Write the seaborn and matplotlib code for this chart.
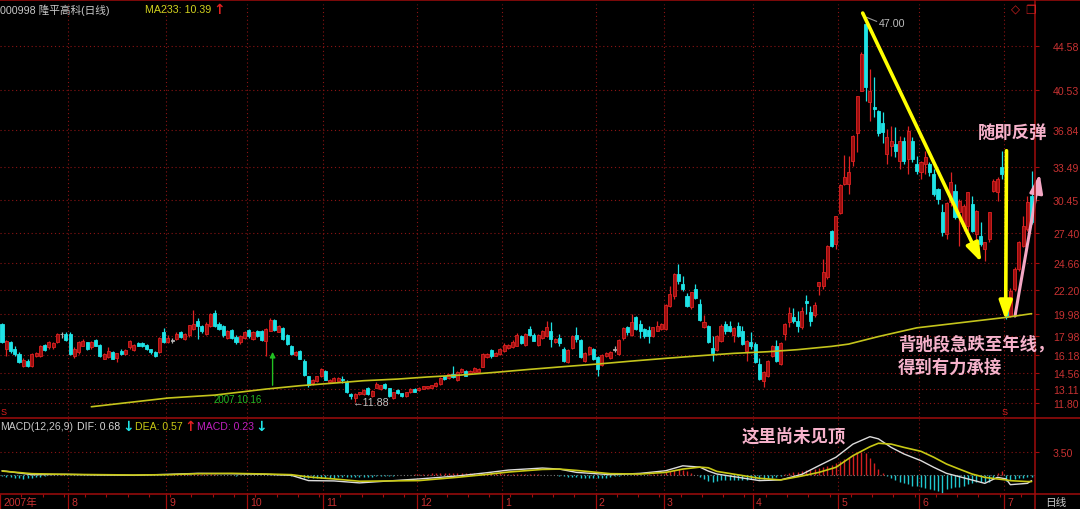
# -*- coding: utf-8 -*-
"""
000998 daily candles with MA233 + MACD, dark terminal look
"""

import numpy as np
import matplotlib.pyplot as plt
import matplotlib.transforms as mtrans
from matplotlib.lines import Line2D
import seaborn as sns
import pandas as pd

sns.set_theme(style="dark", rc={"axes.facecolor": "black", "figure.facecolor": "black",
                                "axes.grid": False})
plt.rcParams["font.family"] = ["Liberation Sans", "Noto Sans CJK SC", "DejaVu Sans"]

#%% Data
opens = [19.05, 16.80, 17.36, 16.75, 16.30, 15.20, 15.70, 15.20, 16.10, 16.10,
         17.10, 16.90, 16.90, 17.36, 18.10, 18.10, 18.10, 16.10, 16.45, 17.05,
         17.36, 16.90, 17.60, 17.10, 15.85, 16.00, 16.45, 15.90, 16.60, 16.30,
         16.90, 16.70, 17.35, 17.30, 17.10, 16.75, 16.50, 16.50, 18.30, 17.36,
         17.50, 17.70, 18.30, 17.70, 18.00, 18.60, 19.35, 18.90, 18.10, 18.90,
         20.10, 19.05, 18.90, 17.80, 18.50, 17.90, 17.36, 17.75, 18.50, 17.67,
         18.45, 18.40, 17.50, 18.45, 19.45, 18.35, 18.65, 18.00, 17.05, 16.20,
         16.60, 15.70, 14.25, 13.60, 13.80, 14.25, 14.75, 13.70, 13.76, 13.85,
         14.00, 13.76, 12.63, 12.23, 12.63, 12.63, 13.15, 12.42, 13.21, 13.09,
         13.52, 13.15, 12.26, 12.97, 12.69, 12.48, 12.78, 13.09, 13.00, 13.09,
         13.15, 13.21, 13.33, 13.52, 14.25, 14.07, 14.46, 13.91, 14.62, 14.71,
         14.56, 14.62, 14.68, 15.14, 16.03, 16.70, 16.15, 16.30, 16.57, 16.82,
         16.91, 17.06, 17.92, 17.12, 18.59, 18.04, 17.12, 17.74, 17.98, 18.44,
         17.37, 17.80, 16.76, 15.60, 16.82, 18.04, 17.62, 15.69, 16.30, 16.76,
         15.99, 15.29, 16.09, 15.90, 16.70, 16.30, 17.73, 18.74, 18.04, 19.66,
         19.05, 18.59, 18.50, 17.92, 18.44, 18.59, 18.59, 20.73, 21.65, 23.64,
         22.72, 21.65, 20.58, 22.26, 20.88, 18.80, 18.90, 16.82, 16.70, 17.52,
         19.05, 18.90, 18.04, 18.84, 18.44, 16.60, 17.43, 17.21, 15.38, 13.85,
         14.31, 16.14, 17.06, 15.38, 18.13, 19.20, 19.66, 19.36, 18.74, 21.19,
         20.12, 19.87, 22.50, 22.57, 23.40, 27.60, 26.40, 29.24, 31.90, 31.90,
         34.04, 36.57, 40.46, 46.57, 39.39, 38.93, 38.60, 37.50, 34.64, 35.40,
         35.56, 34.03, 35.86, 34.18, 35.86, 33.72, 32.96, 33.72, 33.72, 32.80,
         31.43, 29.29, 27.30, 30.20, 31.28, 29.29, 28.07, 28.07, 30.05, 27.30,
         27.15, 25.93, 26.84, 31.28, 31.12, 33.42, 20.58, 19.81, 22.26, 24.10,
         26.23, 27.76, 30.82]
highs = [19.10, 17.60, 17.50, 17.00, 16.50, 15.90, 15.80, 16.40, 16.50, 17.10,
         17.20, 17.50, 17.40, 18.20, 18.30, 18.30, 18.30, 16.90, 17.50, 17.70,
         17.40, 17.50, 17.70, 17.20, 16.40, 16.90, 16.60, 16.40, 16.80, 16.80,
         17.60, 17.20, 17.40, 17.40, 17.20, 16.80, 16.60, 17.90, 18.70, 18.00,
         17.80, 18.30, 18.40, 18.20, 19.00, 20.30, 19.60, 19.00, 19.20, 20.10,
         20.30, 19.20, 19.00, 18.50, 18.60, 18.00, 18.00, 18.40, 18.60, 18.40,
         18.50, 18.50, 18.70, 19.60, 19.50, 19.00, 18.80, 18.10, 17.10, 16.60,
         16.70, 15.80, 14.30, 14.00, 14.30, 15.00, 14.80, 14.00, 14.20, 14.20,
         14.30, 13.90, 12.70, 12.70, 12.85, 13.05, 13.25, 13.00, 13.70, 13.50,
         13.60, 13.20, 12.85, 13.05, 12.75, 12.85, 13.15, 13.20, 13.30, 13.40,
         13.40, 13.50, 13.75, 14.20, 14.30, 14.50, 15.17, 14.70, 15.00, 14.80,
         14.85, 15.10, 15.00, 16.35, 16.35, 16.80, 16.45, 16.85, 17.30, 17.20,
         17.55, 18.20, 18.00, 18.25, 18.90, 18.20, 18.15, 18.50, 19.36, 19.20,
         17.80, 18.13, 16.90, 16.80, 18.00, 18.75, 17.70, 16.50, 17.00, 16.85,
         16.10, 16.30, 16.45, 16.60, 17.00, 17.70, 18.80, 18.90, 19.97, 19.80,
         19.45, 18.70, 18.90, 18.80, 19.30, 19.10, 20.90, 22.57, 23.70, 24.55,
         23.50, 21.90, 22.00, 22.70, 21.34, 19.87, 19.00, 17.92, 18.00, 19.05,
         19.36, 19.36, 18.74, 19.20, 18.90, 17.60, 18.28, 17.40, 15.90, 14.70,
         15.75, 17.10, 17.60, 17.40, 19.10, 20.58, 20.49, 20.27, 20.60, 21.70,
         20.73, 21.04, 22.95, 25.00, 26.30, 27.70, 29.00, 31.90, 34.56, 34.50,
         36.40, 40.00, 43.97, 47.00, 42.45, 41.68, 38.70, 38.46, 36.93, 37.24,
         37.08, 36.32, 36.17, 37.24, 36.17, 34.49, 34.00, 34.95, 33.87, 33.26,
         31.50, 30.05, 30.20, 32.96, 31.89, 30.50, 30.05, 31.20, 30.82, 29.50,
         28.37, 26.60, 29.30, 32.35, 32.50, 34.95, 20.70, 22.40, 24.25, 26.70,
         28.99, 30.80, 33.10]
lows = [17.30, 16.10, 16.40, 16.10, 15.50, 15.10, 15.10, 15.10, 16.00, 16.00,
        16.60, 16.80, 16.80, 17.30, 17.80, 17.50, 16.20, 15.90, 16.30, 17.00,
        16.70, 16.80, 17.00, 16.00, 15.80, 15.90, 15.80, 15.60, 16.20, 16.20,
        16.80, 16.60, 17.00, 16.90, 16.70, 16.30, 16.00, 16.40, 17.30, 17.30,
        17.30, 17.60, 17.80, 17.60, 17.90, 18.50, 17.70, 18.20, 18.00, 18.80,
        18.80, 18.50, 17.90, 17.70, 17.70, 17.20, 17.20, 17.70, 17.80, 17.60,
        17.90, 17.50, 16.10, 18.40, 18.40, 18.30, 17.60, 17.10, 16.20, 16.10,
        15.80, 14.30, 13.30, 13.50, 13.70, 14.20, 13.90, 13.60, 13.70, 13.80,
        13.60, 12.70, 12.17, 11.88, 12.55, 12.55, 12.50, 12.35, 13.15, 13.00,
        13.10, 12.35, 12.20, 12.65, 12.40, 12.40, 12.75, 12.80, 12.95, 13.05,
        13.10, 13.15, 13.30, 13.45, 13.95, 14.00, 14.10, 13.85, 14.55, 14.25,
        14.50, 14.55, 14.60, 15.10, 15.95, 15.90, 16.10, 16.25, 16.50, 16.75,
        16.85, 17.00, 17.20, 17.05, 17.95, 17.45, 17.05, 17.65, 17.85, 16.90,
        17.30, 17.06, 15.60, 15.50, 16.75, 17.37, 15.90, 15.60, 16.20, 15.75,
        14.31, 15.20, 16.00, 15.85, 16.50, 16.20, 17.60, 18.00, 17.95, 18.50,
        17.73, 17.80, 17.30, 17.85, 18.40, 18.50, 18.50, 20.60, 21.30, 22.70,
        22.10, 20.60, 20.43, 21.30, 19.35, 18.70, 17.30, 15.70, 16.60, 17.40,
        18.13, 18.28, 17.37, 17.90, 17.10, 15.68, 16.76, 15.45, 13.95, 13.24,
        14.20, 16.00, 15.53, 15.30, 17.60, 18.74, 19.14, 18.35, 18.60, 19.97,
        18.90, 19.66, 21.70, 22.26, 23.20, 26.10, 25.93, 29.10, 31.85, 30.98,
        33.58, 34.80, 40.46, 39.54, 37.70, 38.00, 36.30, 35.70, 33.72, 34.49,
        34.33, 33.26, 33.72, 32.80, 33.87, 32.80, 32.35, 32.80, 32.65, 30.82,
        30.05, 27.15, 26.84, 29.90, 28.68, 26.23, 27.60, 27.60, 27.45, 26.23,
        26.23, 24.86, 26.53, 31.12, 30.36, 32.35, 19.50, 19.70, 22.10, 23.90,
        26.10, 27.60, 28.20]
closes = [17.36, 17.50, 16.60, 16.30, 15.60, 15.75, 15.20, 16.30, 16.40, 17.00,
          16.70, 17.40, 17.35, 18.10, 18.10, 17.60, 16.30, 16.75, 17.40, 17.50,
          16.80, 17.40, 17.05, 16.10, 16.30, 16.60, 15.85, 16.35, 16.30, 16.70,
          17.45, 17.10, 17.05, 17.00, 16.75, 16.45, 16.15, 17.75, 17.40, 17.80,
          17.50, 18.10, 17.90, 18.10, 18.95, 19.05, 18.90, 18.40, 19.05, 19.96,
          18.90, 18.60, 18.00, 18.40, 17.80, 17.36, 17.95, 18.30, 17.95, 18.30,
          17.95, 17.60, 18.60, 19.45, 18.50, 18.90, 17.67, 17.20, 16.30, 16.50,
          15.85, 14.40, 13.50, 13.95, 14.25, 14.90, 13.95, 13.90, 14.06, 14.12,
          13.95, 12.78, 12.42, 12.63, 12.78, 13.00, 12.63, 12.90, 13.52, 13.45,
          13.15, 12.42, 12.78, 12.72, 12.48, 12.78, 13.09, 12.85, 13.21, 13.33,
          13.33, 13.45, 13.67, 14.13, 14.00, 14.46, 14.16, 14.62, 14.92, 14.31,
          14.77, 14.98, 14.92, 16.27, 16.27, 16.15, 16.39, 16.76, 17.12, 17.12,
          17.43, 18.04, 17.31, 18.13, 18.04, 17.52, 18.04, 18.41, 18.81, 17.68,
          17.68, 17.31, 15.69, 16.70, 17.92, 17.68, 16.00, 16.39, 16.91, 15.84,
          14.92, 16.21, 16.39, 16.50, 16.70, 17.60, 18.65, 18.28, 19.20, 18.59,
          18.44, 17.98, 17.98, 18.74, 18.90, 19.05, 20.79, 21.80, 23.64, 23.03,
          22.26, 20.73, 21.95, 21.40, 19.42, 19.20, 17.37, 16.39, 17.92, 18.90,
          18.44, 18.44, 18.65, 17.98, 17.21, 17.52, 17.00, 15.53, 14.00, 14.61,
          15.68, 17.00, 15.68, 17.30, 19.05, 20.06, 19.36, 18.90, 20.27, 20.98,
          19.36, 20.79, 22.87, 23.85, 26.20, 26.24, 29.00, 31.83, 32.57, 32.97,
          36.33, 39.94, 43.82, 40.76, 40.46, 38.78, 36.60, 36.63, 36.17, 35.86,
          34.95, 35.86, 34.03, 36.78, 34.18, 33.11, 33.87, 34.33, 32.96, 30.97,
          30.51, 27.45, 30.14, 32.04, 28.83, 30.36, 29.90, 31.12, 27.60, 29.44,
          26.38, 26.53, 29.29, 32.20, 32.35, 32.80, 19.75, 22.10, 24.10, 26.54,
          28.07, 30.20, 28.37]

# MA233 (sampled along the line)
ma_idx = [21, 39, 50, 62, 70, 78, 85, 93, 100, 108, 116, 124, 132, 140, 148, 156,
          164, 172, 180, 187, 195, 199, 206, 215, 236, 242]
ma_val = [11.46, 12.26, 12.53, 13.08, 13.39, 13.63, 13.85, 14.00, 14.19, 14.37, 14.62,
          14.89, 15.14, 15.38, 15.65, 15.90, 16.14, 16.36, 16.51, 16.70, 17.00, 17.21,
          17.90, 18.70, 19.66, 20.00]

# MACD lines (sampled) and histogram (per candle)
macd_idx = [0, 7, 15, 23, 31, 39, 46, 54, 62, 68, 72, 78, 84, 98, 107, 114, 119, 127,
            131, 135, 143, 150, 156, 160, 164, 166, 168, 178, 183, 188, 192, 196, 200,
            204, 206, 209, 212, 216, 219, 222, 225, 228, 231, 234, 236, 237, 241, 242]
dif = [0.65, 0.05, 0.10, 0.00, -0.05, 0.10, 0.25, 0.20, 0.10, -0.05, -0.85, -0.90,
       -1.20, -0.60, -0.15, 0.35, 0.75, 1.06, 0.90, 0.40, 0.05, 0.25, 0.65, 1.40, 1.20,
       0.60, 0.15, -0.85, -0.75, 0.10, 1.42, 2.70, 4.70, 5.83, 5.50, 4.20, 3.20, 2.18,
       1.17, 0.25, -0.25, -0.76, -1.27, -0.35, -0.60, -1.47, -1.27, -0.86]
dea = [0.60, 0.20, 0.10, 0.05, 0.00, 0.05, 0.20, 0.25, 0.15, 0.05, -0.30, -0.60,
       -0.95, -0.85, -0.35, 0.10, 0.45, 0.85, 0.90, 0.70, 0.20, 0.15, 0.40, 0.90, 1.20,
       1.10, 0.55, -0.50, -0.75, -0.15, 0.40, 1.17, 2.94, 4.30, 4.83, 4.70, 4.20, 3.60,
       2.70, 1.67, 0.90, 0.15, -0.36, -0.60, -0.75, -0.86, -1.00, -1.00]
macd_hist = [-0.15, -0.25, -0.35, -0.45, -0.5, -0.55, -0.5, -0.45, -0.35, -0.25, -0.15,
             -0.05, 0.02, 0.05, 0.08, 0.05, 0.0, -0.05, -0.05, 0.02, 0.03,
             0.02, 0.0, -0.03, -0.05, -0.05, -0.04, -0.03, 0.0, 0.02, 0.04,
             0.05, 0.05, 0.03, 0.0, -0.03, -0.05, 0.02, 0.05, 0.08, 0.1,
             0.12, 0.12, 0.1, 0.12, 0.15, 0.12, 0.1, 0.1, 0.12, 0.1,
             0.05, 0.0, -0.03, -0.05, -0.08, -0.05, -0.03, -0.02, 0.0, -0.02,
             -0.03, 0.02, 0.05, 0.04, 0.02, -0.02, -0.05,
             -0.1, -0.2, -0.3, -0.4, -0.5, -0.5, -0.5, -0.45, -0.45, -0.4, -0.4, -0.35,
             -0.35, -0.3, -0.3, -0.35, -0.3,
             -0.3, -0.25, -0.25, -0.2, -0.15, -0.15, -0.1, -0.1, -0.05, -0.05, 0.0, 0.05, 0.1,
             0.15, 0.2, 0.2, 0.25, 0.25, 0.3, 0.3, 0.3, 0.35, 0.3, 0.3, 0.35, 0.3, 0.3, 0.3,
             0.35, 0.35, 0.3, 0.3, 0.25,
             0.2, 0.2, 0.15, 0.2, 0.15, 0.15, 0.1, 0.1, 0.1, 0.05, 0.05, 0.05, 0.0,
             -0.1, -0.2, -0.3, -0.3, -0.35, -0.4, -0.45, -0.5, -0.45, -0.5, -0.5, -0.4,
             -0.3, -0.2, -0.1,
             0.0, 0.05, 0.05, 0.1, 0.05, 0.05, 0.1, 0.1, 0.15, 0.2,
             0.4, 0.6, 0.8, 0.9, 0.8, 0.6, 0.3, 0.0,
             -0.3, -0.6, -0.9, -1.0, -0.9, -0.8, -0.7, -0.7, -0.75, -0.8, -0.8, -0.7,
             -0.6, -0.55, -0.6, -0.6, -0.5, -0.4, -0.3, -0.1,
             0.2, 0.3, 0.4, 0.5, 0.6, 0.7, 0.8, 0.9, 1.1, 1.2, 1.3, 1.5, 1.8, 2.1, 2.4,
             2.7, 3.0, 3.3, 3.5, 3.4, 2.6, 1.8, 0.9, 0.3,
             -0.2, -0.4, -0.7, -1.0, -1.2, -1.4, -1.6, -1.7, -1.8, -2.0, -2.1, -2.3, -2.5,
             -2.8, -2.2, -2.0, -1.9, -1.8, -1.6, -1.4, -1.2, -1.1, -1.0, -1.1, -1.0, -0.6,
             0.3, 0.6,
             -0.9, -0.8, -0.6, -0.4, -0.4, -0.3, -0.3]

price_ticks = [44.58, 40.53, 36.84, 33.49, 30.45, 27.40, 24.66, 22.20, 19.98, 17.98,
               16.18, 14.56, 13.11, 11.80]
month_starts = [0, 16, 39, 58, 76, 98, 118, 140, 156, 177, 197, 216, 236]
month_labels = ["2007年", "8", "9", "10", "11", "12", "1", "2", "3", "4", "5", "6", "7"]

assert len(opens) == len(highs) == len(lows) == len(closes) == len(macd_hist)

df = pd.DataFrame({"open": opens, "high": highs, "low": lows, "close": closes})
df["x"] = np.arange(len(df))

#%% Style
RED_FACE, RED_EDGE = "#9a0e0e", "#de2222"
CYAN = "#1fe3e6"
GRAY = "#b4b4b4"
FRAME = "#a00c0c"
LABEL = "#c83232"
GRID = "#8c1414"
PINK = "#f6b2cb"
W, H = 1080, 510


def fx(px):
    return px / W


def fy(py):
    return 1 - py / H


fig = plt.figure(figsize=(10.8, 5.1), dpi=100)
ax = fig.add_axes([0, fy(418), fx(1035), (418 - 5) / H])
ax2 = fig.add_axes([0, fy(495), fx(1035), (495 - 420) / H])

xlim = (-0.47, 242.8)

#%% Price panel
for a in (ax, ax2):
    a.set_facecolor("black")
    for s in a.spines.values():
        s.set_visible(False)
    a.set_xlim(*xlim)
    for s in month_starts[1:]:
        a.axvline(s - 0.5, color=GRID, lw=0.8, ls=(0, (1, 2.5)), zorder=0)

for t in price_ticks:
    ax.axhline(t, color=GRID, lw=0.8, ls=(0, (1, 2.5)), zorder=0)

up = df[df.close > df.open]
down = df[df.close < df.open]
flat = df[df.close == df.open]
for d, face, edge in [(up, RED_FACE, RED_EDGE), (down, CYAN, CYAN), (flat, GRAY, GRAY)]:
    ax.vlines(d.x, d.low, d.high, color=edge, lw=0.9, zorder=2)
    ax.bar(d.x, (d.close - d.open).abs().clip(lower=0.07),
           bottom=np.minimum(d.open, d.close), width=0.72,
           color=face, edgecolor=edge, linewidth=0.6, zorder=3)

sns.lineplot(x=ma_idx, y=ma_val, ax=ax, color="#c4c41c", linewidth=1.2, zorder=4)

ax.set_ylim(10.52, 48.41)
ax.set_yticks(price_ticks)
ax.set_yticklabels([f"{t:.2f}" for t in price_ticks])
ax.tick_params(axis="y", right=True, left=False, labelright=True, labelleft=False,
               length=3, width=0.8, color=FRAME, labelcolor=LABEL, labelsize=7.6, pad=10)
ax.tick_params(axis="x", bottom=False, labelbottom=False)
ax.set_xlabel("")
ax.set_ylabel("")

# annotations on price panel
ax.annotate("", xy=(63.6, 16.75), xytext=(63.6, 13.18),
            arrowprops=dict(arrowstyle="-|>", color="#22c022", lw=1, mutation_scale=8))
ax.text(55.3, 12.17, "2007.10.16", color="#22b822", fontsize=7, ha="center", va="center")
ax.plot([203.2, 205.6], [47.19, 46.81], color="#9a9a9a", lw=0.8)
ax.text(206.1, 46.66, "47.00", color="#bdbdbd", fontsize=7.7, ha="left", va="center")
ax.text(82.5, 11.89, "←11.88", color="#bdbdbd", fontsize=7.7, ha="left", va="center")

arrows = [((230.2, 24.71), (202.3, 47.58), "#ffff00", 2.6),
          ((235.9, 19.41), (236.1, 34.95), "#ffff00", 2.6),
          ((243.9, 32.81), (238.1, 19.78), "#f4a7c4", 2.2)]
for tip, tail, col, lw in arrows:
    ann = ax.annotate("", xy=tip, xytext=tail, annotation_clip=False,
                      arrowprops=dict(arrowstyle="-|>,head_length=0.8,head_width=0.28",
                                      color=col, lw=lw, mutation_scale=14,
                                      shrinkA=0, shrinkB=0))
    ann.arrow_patch.set_clip_on(False)
    ann.arrow_patch.set_zorder(6)

#%% MACD panel
ax2.axhline(0, color="#7a7a7a", lw=0.8, ls=(0, (1, 2)), zorder=1)
ax2.axhline(3.5, color=GRID, lw=0.8, ls=(0, (1, 2.5)), zorder=0)
hist_cols = ["#d42020" if h > 0 else "#20c8d0" for h in macd_hist]
ax2.vlines(df.x, 0, macd_hist, colors=hist_cols, lw=1.0, zorder=2)
sns.lineplot(x=macd_idx, y=dif, ax=ax2, color="#dcdcdc", linewidth=1.0, zorder=3)
sns.lineplot(x=macd_idx, y=dea, ax=ax2, color="#c8c814", linewidth=1.2, zorder=3)
ax2.set_ylim(-2.89, 8.52)
ax2.set_yticks([3.5])
ax2.set_yticklabels(["3.50"])
ax2.tick_params(axis="y", right=True, left=False, labelright=True, labelleft=False,
                length=3, width=0.8, color=FRAME, labelcolor=LABEL, labelsize=7.6, pad=10)
ax2.set_xticks([s - 0.5 for s in month_starts])
ax2.set_xticks(np.arange(0, len(df), 5) - 0.5, minor=True)
ax2.tick_params(axis="x", which="major", bottom=True, labelbottom=False, direction="out",
                length=10.8, width=0.9, color=FRAME)
ax2.tick_params(axis="x", which="minor", bottom=True, labelbottom=False, direction="out",
                length=2.2, width=0.8, color=FRAME)
ax2.set_xlabel("")
ax2.set_ylabel("")

trans = mtrans.blended_transform_factory(ax2.transData, ax2.transAxes)
for s, lab in zip(month_starts, month_labels):
    ax2.text(s - 0.5 + 0.75, -0.107, lab, transform=trans, color=LABEL, fontsize=7.6,
             ha="left", va="center", clip_on=False)

#%% Frame lines and header texts
for (x0, y0, x1, y1) in [(0, 1, W, 1), (0, 419, W, 419), (0, 495, W, 495), (1035, 0, 1035, H)]:
    fig.add_artist(Line2D([fx(x0), fx(x1)], [fy(y0), fy(y1)], color=FRAME, lw=1.1))

arrow_font = ["DejaVu Sans"]
fig.text(fx(0), fy(10), "000998 隆平高科(日线)", color="#c8c8c8", fontsize=7.7, va="center")
fig.text(fx(145), fy(10), "MA233: 10.39", color="#d2d21e", fontsize=7.7, va="center")
fig.text(fx(213), fy(10), "↑", color="#e02020", fontsize=10, fontweight="bold",
         family=arrow_font, va="center")
fig.text(fx(1011), fy(10), "◇", color="#d02020", fontsize=8.5, family=arrow_font, va="center")
fig.text(fx(1025), fy(10), "❐", color="#d02020", fontsize=8.5, family=arrow_font, va="center")

header = [(0, "MACD(12,26,9)", "#c8c8c8"), (77, "DIF: 0.68", "#d8d8d8"),
          (135, "DEA: 0.57", "#c8c814"), (197, "MACD: 0.23", "#c020c0")]
for px, txt, col in header:
    fig.text(fx(px), fy(427), txt, color=col, fontsize=7.6, va="center")
for px, txt, col in [(122, "↓", CYAN), (184, "↑", "#e02020"), (255, "↓", CYAN)]:
    fig.text(fx(px), fy(427), txt, color=col, fontsize=10, fontweight="bold",
             family=arrow_font, va="center")

fig.text(fx(1045), fy(503), "日线", color="#c8c8c8", fontsize=7.7, va="center")
fig.text(fx(1), fy(413), "S", color="#e02020", fontsize=6.5, va="center")
fig.text(fx(1002), fy(413), "S", color="#e02020", fontsize=6.5, va="center")

cjk = ["Noto Sans CJK SC", "DejaVu Sans"]
for px, py, txt in [(978, 133, "随即反弹"), (898, 345, "背驰段急跌至年线，"),
                    (898, 368, "得到有力承接"), (742, 437, "这里尚未见顶")]:
    fig.text(fx(px), fy(py), txt, color=PINK, fontsize=12.5, fontweight="bold",
             family=cjk, va="center", ha="left")

fig.savefig("out.png", dpi=100, facecolor="black")
